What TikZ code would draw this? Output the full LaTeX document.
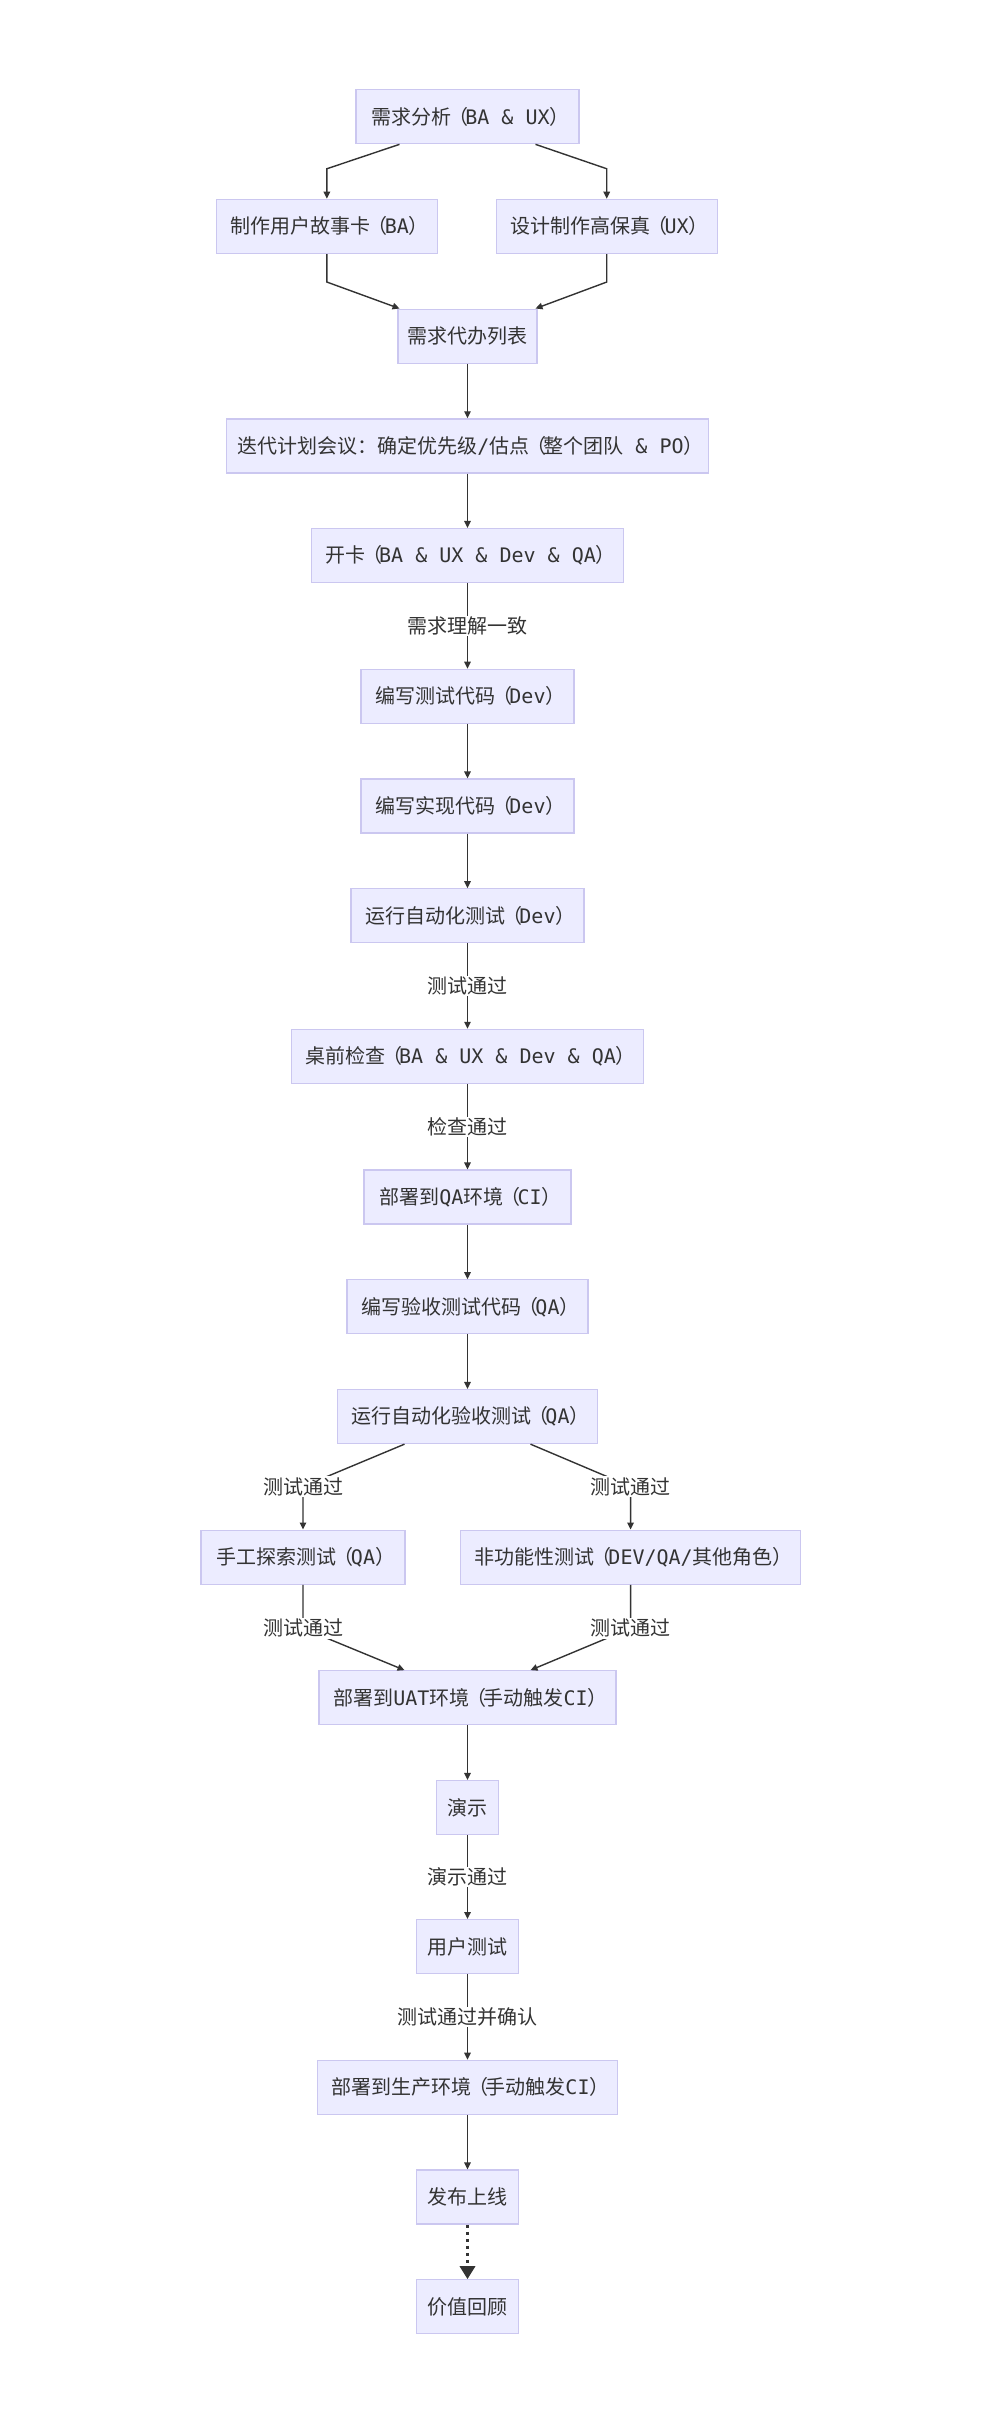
\documentclass[tikz,border=0pt]{standalone}
\usepackage{fontspec}
\setmainfont{Noto Sans CJK SC}
\newfontfamily\monof{DejaVu Sans Mono}
\usetikzlibrary{calc,arrows.meta}
\definecolor{nodefill}{HTML}{ECECFF}
\definecolor{nodeline}{HTML}{CBC7F0}
\definecolor{ink}{HTML}{333333}
\newcommand\lp{\makebox[14pt][l]{\kern-3pt（}}
\newcommand\rp{\makebox[14pt][l]{）}}
\newcommand\lt[1]{{\monof #1}}
\tikzset{
  box/.style={draw=nodeline, fill=nodefill, line width=1.3pt, inner sep=0pt,
    minimum height=54pt, text=ink, font=\fontsize{20}{24}\selectfont},
  lbl/.style={fill=white, inner sep=1pt, text=ink, font=\fontsize{20}{24}\selectfont},
  conn/.style={draw=ink, line width=1.4pt, -{Triangle[length=7pt,width=6.5pt]}},
  dotconn/.style={draw=ink, line width=3.5pt, dash pattern=on 3.5pt off 3.5pt,
    -{Triangle[length=13pt,width=15pt]}}
}
\begin{document}
\begin{tikzpicture}[x=1pt,y=-1pt]
\useasboundingbox[fill=white] (0,0) rectangle (1000,2424);
\def\cx{467.5}
\node[box, minimum width=223pt] (n1) at (\cx,116.7) {需求分析\lp\lt{BA \& UX}\rp};
\node[box, minimum width=221pt] (n2) at (326.9,226.4) {制作用户故事卡\lp\lt{BA}\rp};
\node[box, minimum width=221pt] (n3) at (606.7,226.4) {设计制作高保真\lp\lt{UX}\rp};
\node[box, minimum width=139pt] (n4) at (\cx,336.2) {需求代办列表};
\node[box, minimum width=482pt] (n5) at (\cx,445.9) {迭代计划会议：确定优先级\lt{/}估点\lp 整个团队\lt{ \& PO}\rp};
\node[box, minimum width=312pt] (n6) at (\cx,555.6) {开卡\lp\lt{BA \& UX \& Dev \& QA}\rp};
\node[box, minimum width=213pt] (n7) at (\cx,696.3) {编写测试代码\lp\lt{Dev}\rp};
\node[box, minimum width=213pt] (n8) at (\cx,806.0) {编写实现代码\lp\lt{Dev}\rp};
\node[box, minimum width=233pt] (n9) at (\cx,915.8) {运行自动化测试\lp\lt{Dev}\rp};
\node[box, minimum width=352pt] (n10) at (\cx,1056.4) {桌前检查\lp\lt{BA \& UX \& Dev \& QA}\rp};
\node[box, minimum width=207pt] (n11) at (\cx,1197.1) {部署到\lt{QA}环境\lp\lt{CI}\rp};
\node[box, minimum width=241pt] (n12) at (\cx,1306.8) {编写验收测试代码\lp\lt{QA}\rp};
\node[box, minimum width=260pt] (n13) at (\cx,1416.5) {运行自动化验收测试\lp\lt{QA}\rp};
\node[box, minimum width=204pt] (n14) at (303.0,1557.2) {手工探索测试\lp\lt{QA}\rp};
\node[box, minimum width=340pt] (n15) at (630.6,1557.2) {非功能性测试\lp\lt{DEV/QA/}其他角色\rp};
\node[box, minimum width=297pt] (n16) at (\cx,1697.8) {部署到\lt{UAT}环境\lp 手动触发\lt{CI}\rp};
\node[box, minimum width=62pt] (n17) at (\cx,1807.6) {演示};
\node[box, minimum width=102pt] (n18) at (\cx,1946.7) {用户测试};
\node[box, minimum width=300pt] (n19) at (\cx,2087.3) {部署到生产环境\lp 手动触发\lt{CI}\rp};
\node[box, minimum width=102pt] (n20) at (\cx,2197.1) {发布上线};
\node[box, minimum width=102pt] (n21) at (\cx,2306.8) {价值回顾};

% split / merge at top
\draw[conn] ($(n1.south)+(-68,0)$) -- ($(n2.north)+(0,-30)$) -- (n2.north);
\draw[conn] ($(n1.south)+(68,0)$) -- ($(n3.north)+(0,-30)$) -- (n3.north);
\draw[conn] (n2.south) -- ($(n2.south)+(0,28)$) -- ($(n4.north)+(-68,0)$);
\draw[conn] (n3.south) -- ($(n3.south)+(0,28)$) -- ($(n4.north)+(68,0)$);

\draw[conn] (n4) -- (n5);
\draw[conn] (n5) -- (n6);
\draw[conn] (n6) -- node[lbl] {需求理解一致} (n7);
\draw[conn] (n7) -- (n8);
\draw[conn] (n8) -- (n9);
\draw[conn] (n9) -- node[lbl] {测试通过} (n10);
\draw[conn] (n10) -- node[lbl] {检查通过} (n11);
\draw[conn] (n11) -- (n12);
\draw[conn] (n12) -- (n13);

% split / merge at QA
\draw[conn] ($(n13.south)+(-63,0)$) -- ($(n14.north)+(0,-43)$) node[lbl] {测试通过} -- (n14.north);
\draw[conn] ($(n13.south)+(63,0)$) -- ($(n15.north)+(0,-43)$) node[lbl] {测试通过} -- (n15.north);
\draw[conn] (n14.south) -- ($(n14.south)+(0,43.5)$) node[lbl] {测试通过} -- ($(n16.north)+(-63,0)$);
\draw[conn] (n15.south) -- ($(n15.south)+(0,43.5)$) node[lbl] {测试通过} -- ($(n16.north)+(63,0)$);

\draw[conn] (n16) -- (n17);
\draw[conn] (n17) -- node[lbl] {演示通过} (n18);
\draw[conn] (n18) -- node[lbl] {测试通过并确认} (n19);
\draw[conn] (n19) -- (n20);
\draw[dotconn] (n20) -- (n21);
\end{tikzpicture}
\end{document}
